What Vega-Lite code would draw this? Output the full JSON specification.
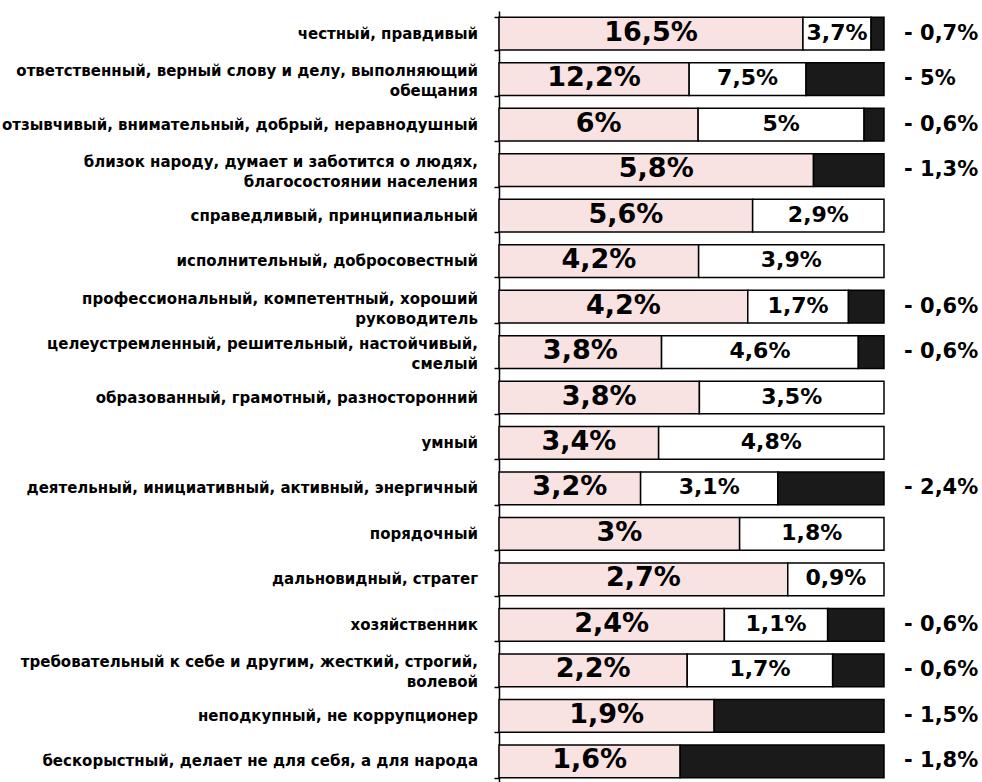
{
  "$schema": "https://vega.github.io/schema/vega-lite/v6.json",
  "width": 385,
  "height": 773,
  "padding": {"left": 2, "top": 11, "right": 5, "bottom": 0},
  "background": "white",
  "config": {"view": {"stroke": null}},
  "data": {"values": [
    {"cat": "честный, правдивый", "type": "pos", "o": 1, "value": 16.5, "label": "16,5%"},
    {"cat": "честный, правдивый", "type": "neu", "o": 2, "value": 3.7, "label": "3,7%"},
    {"cat": "честный, правдивый", "type": "neg", "o": 3, "value": 0.7, "label": "- 0,7%"},
    {"cat": "ответственный, верный слову и делу, выполняющий|обещания", "type": "pos", "o": 1, "value": 12.2, "label": "12,2%"},
    {"cat": "ответственный, верный слову и делу, выполняющий|обещания", "type": "neu", "o": 2, "value": 7.5, "label": "7,5%"},
    {"cat": "ответственный, верный слову и делу, выполняющий|обещания", "type": "neg", "o": 3, "value": 5, "label": "- 5%"},
    {"cat": "отзывчивый, внимательный, добрый, неравнодушный", "type": "pos", "o": 1, "value": 6, "label": "6%"},
    {"cat": "отзывчивый, внимательный, добрый, неравнодушный", "type": "neu", "o": 2, "value": 5, "label": "5%"},
    {"cat": "отзывчивый, внимательный, добрый, неравнодушный", "type": "neg", "o": 3, "value": 0.6, "label": "- 0,6%"},
    {"cat": "близок народу, думает и заботится о людях,|благосостоянии населения", "type": "pos", "o": 1, "value": 5.8, "label": "5,8%"},
    {"cat": "близок народу, думает и заботится о людях,|благосостоянии населения", "type": "neg", "o": 3, "value": 1.3, "label": "- 1,3%"},
    {"cat": "справедливый, принципиальный", "type": "pos", "o": 1, "value": 5.6, "label": "5,6%"},
    {"cat": "справедливый, принципиальный", "type": "neu", "o": 2, "value": 2.9, "label": "2,9%"},
    {"cat": "исполнительный, добросовестный", "type": "pos", "o": 1, "value": 4.2, "label": "4,2%"},
    {"cat": "исполнительный, добросовестный", "type": "neu", "o": 2, "value": 3.9, "label": "3,9%"},
    {"cat": "профессиональный, компетентный, хороший|руководитель", "type": "pos", "o": 1, "value": 4.2, "label": "4,2%"},
    {"cat": "профессиональный, компетентный, хороший|руководитель", "type": "neu", "o": 2, "value": 1.7, "label": "1,7%"},
    {"cat": "профессиональный, компетентный, хороший|руководитель", "type": "neg", "o": 3, "value": 0.6, "label": "- 0,6%"},
    {"cat": "целеустремленный, решительный, настойчивый,|смелый", "type": "pos", "o": 1, "value": 3.8, "label": "3,8%"},
    {"cat": "целеустремленный, решительный, настойчивый,|смелый", "type": "neu", "o": 2, "value": 4.6, "label": "4,6%"},
    {"cat": "целеустремленный, решительный, настойчивый,|смелый", "type": "neg", "o": 3, "value": 0.6, "label": "- 0,6%"},
    {"cat": "образованный, грамотный, разносторонний", "type": "pos", "o": 1, "value": 3.8, "label": "3,8%"},
    {"cat": "образованный, грамотный, разносторонний", "type": "neu", "o": 2, "value": 3.5, "label": "3,5%"},
    {"cat": "умный", "type": "pos", "o": 1, "value": 3.4, "label": "3,4%"},
    {"cat": "умный", "type": "neu", "o": 2, "value": 4.8, "label": "4,8%"},
    {"cat": "деятельный, инициативный, активный, энергичный", "type": "pos", "o": 1, "value": 3.2, "label": "3,2%"},
    {"cat": "деятельный, инициативный, активный, энергичный", "type": "neu", "o": 2, "value": 3.1, "label": "3,1%"},
    {"cat": "деятельный, инициативный, активный, энергичный", "type": "neg", "o": 3, "value": 2.4, "label": "- 2,4%"},
    {"cat": "порядочный", "type": "pos", "o": 1, "value": 3, "label": "3%"},
    {"cat": "порядочный", "type": "neu", "o": 2, "value": 1.8, "label": "1,8%"},
    {"cat": "дальновидный, стратег", "type": "pos", "o": 1, "value": 2.7, "label": "2,7%"},
    {"cat": "дальновидный, стратег", "type": "neu", "o": 2, "value": 0.9, "label": "0,9%"},
    {"cat": "хозяйственник", "type": "pos", "o": 1, "value": 2.4, "label": "2,4%"},
    {"cat": "хозяйственник", "type": "neu", "o": 2, "value": 1.1, "label": "1,1%"},
    {"cat": "хозяйственник", "type": "neg", "o": 3, "value": 0.6, "label": "- 0,6%"},
    {"cat": "требовательный к себе и другим, жесткий, строгий,|волевой", "type": "pos", "o": 1, "value": 2.2, "label": "2,2%"},
    {"cat": "требовательный к себе и другим, жесткий, строгий,|волевой", "type": "neu", "o": 2, "value": 1.7, "label": "1,7%"},
    {"cat": "требовательный к себе и другим, жесткий, строгий,|волевой", "type": "neg", "o": 3, "value": 0.6, "label": "- 0,6%"},
    {"cat": "неподкупный, не коррупционер", "type": "pos", "o": 1, "value": 1.9, "label": "1,9%"},
    {"cat": "неподкупный, не коррупционер", "type": "neg", "o": 3, "value": 1.5, "label": "- 1,5%"},
    {"cat": "бескорыстный, делает не для себя, а для народа", "type": "pos", "o": 1, "value": 1.6, "label": "1,6%"},
    {"cat": "бескорыстный, делает не для себя, а для народа", "type": "neg", "o": 3, "value": 1.8, "label": "- 1,8%"}
  ]},
  "encoding": {
    "y": {
      "field": "cat", "type": "nominal", "sort": null, "title": null,
      "scale": {"paddingInner": 0.28, "paddingOuter": 0.14},
      "axis": {
        "labels": false, "tickBand": "extent", "tickSize": 5, "tickColor": "black",
        "tickWidth": 1.5, "domainColor": "black", "domainWidth": 1.5
      }
    }
  },
  "layer": [
    {
      "mark": {"type": "bar", "stroke": "black", "strokeWidth": 1.5},
      "encoding": {
        "x": {"field": "value", "type": "quantitative", "stack": "normalize", "axis": null, "scale": {"domain": [0, 1]}},
        "order": {"field": "o"},
        "color": {"field": "type", "type": "nominal", "legend": null,
          "scale": {"domain": ["pos", "neu", "neg"], "range": ["#f9e2e2", "#ffffff", "#1a1a1a"]}}
      }
    },
    {
      "transform": [{"filter": "datum.o == 1"}],
      "mark": {"type": "text", "font": "DejaVu Sans", "fontWeight": "bold", "fontSize": 15, "lineBreak": "|", "lineHeight": 20,
        "align": "right", "baseline": "middle", "dx": -21, "color": "black",
        "dy": {"expr": "indexof(datum.cat, '|') >= 0 ? -8 : 0"}},
      "encoding": {
        "x": {"datum": 0},
        "text": {"field": "cat"}
      }
    },
    {
      "transform": [
        {"fold": ["value", "value"], "as": ["k", "v"]},
        {"window": [{"op": "row_number", "as": "rn"}], "groupby": ["cat", "o"]},
        {"stack": "v", "groupby": ["cat"], "sort": [{"field": "o"}, {"field": "rn"}], "offset": "normalize", "as": ["s0", "s1"]},
        {"filter": "datum.rn == 1 && datum.type != 'neg'"}
      ],
      "mark": {"type": "text", "font": "DejaVu Sans", "fontWeight": "bold", "baseline": "middle", "dy": -1},
      "encoding": {
        "x": {"field": "s1", "type": "quantitative"},
        "text": {"field": "label"},
        "size": {"field": "type", "type": "nominal", "legend": null, "scale": {"domain": ["pos", "neu"], "range": [27, 22]}},
        "color": {"value": "black"}
      }
    },
    {
      "transform": [{"filter": "datum.type == 'neg'"}],
      "mark": {"type": "text", "font": "DejaVu Sans", "fontWeight": "bold", "fontSize": 21, "align": "left", "baseline": "middle", "dx": 20, "color": "black"},
      "encoding": {
        "x": {"datum": 1},
        "text": {"field": "label"}
      }
    }
  ]
}
